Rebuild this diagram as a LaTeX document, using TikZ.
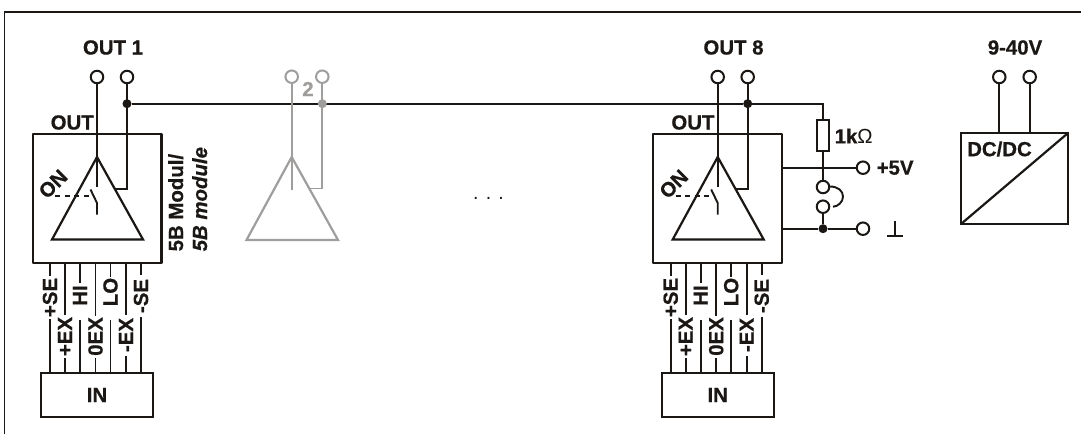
\documentclass[tikz,border=0pt]{standalone}
\usepackage{fontspec}
\setmainfont[BoldFeatures={FakeBold=0.6},BoldItalicFeatures={FakeBold=0.6}]{Liberation Sans}
\begin{document}
\begin{tikzpicture}[x=1pt,y=-1pt,
  wire/.style={line width=1.9pt,draw=ink},
  thin wire/.style={line width=1.7pt,draw=ink},
  box/.style={line width=2.2pt,draw=ink},
  term/.style={circle,draw=ink,line width=2pt,fill=white,minimum size=12.5pt,inner sep=0pt},
  gterm/.style={term,draw=ghost},
  jdot/.style={circle,fill=ink,minimum size=9pt,inner sep=0pt},
  gdot/.style={jdot,fill=ghost},
  lab/.style={font=\fontsize{20.4}{20.4}\selectfont\bfseries,text=ink,inner sep=0pt},
  sig/.style={lab,rotate=90},
  ghostwire/.style={line width=1.9pt,draw=ghost}]
\definecolor{ink}{HTML}{1A1714}
\definecolor{ghost}{HTML}{A09E9C}
\useasboundingbox (0,0) rectangle (1081,434);
\fill[white] (0,0) rectangle (1081,434);
\draw[line width=1.4pt,draw=ink] (4.5,434) -- (4.5,12) -- (1081,12);

% --- bus
\coordinate (busR) at (823,103.7);
\node[jdot] (d1) at (127,103.7) {};
\node[jdot] (d8) at (747.7,103.7) {};

% --- OUT 1 module
\node[term] (a1) at (97,77) {};
\node[term] (b1) at (127,77) {};
\node[lab] (o1) at (113,47.5) {OUT 1};
\node[lab,anchor=base west] (oi1) at (50.5,129.5) {OUT};
\coordinate (apex1) at (97,157);
\coordinate (bl1) at (52,239.5);
\coordinate (br1) at (143,239.5);
\coordinate (sw1) at (97,187);
\coordinate (kn1) at (127,189);
\coordinate (tr1) at (115,189);
\draw[box,line join=round] (33,134) rectangle (161.5,263);
\draw[box,line join=miter] (apex1) -- (bl1) -- (br1) -- cycle;
\draw[wire] (a1) -- (sw1);
\draw[wire] (b1) -- (kn1) -- (tr1);
\draw[wire] (d1) -- (d8);
\draw[wire] (90.5,189.5) -- (97,203) -- (97,214.5);
\draw[wire,dash pattern=on 5pt off 4.5pt] (55,196) -- (92,196);
\node[lab,rotate=45] (on1) at (53,184) {ON};
\node[lab,rotate=90,anchor=base west] (m1a) at (183,251.5) {5B Modul/};
\node[lab,rotate=90,anchor=base west,font=\fontsize{20.4}{20.4}\selectfont\bfseries\itshape] (m1b) at (207,251.5) {5B module};

% --- signals 1
\foreach \xx/\ya/\yb/\yc/\txt/\ym in {
  50/276/319/373/+SE/297.5,
  65/315/358/373/+EX/336.5,
  80/283/320/373/HI/295.5,
  95.5/316/358/373/0EX/336.5,
  110.5/277/320/373/LO/292,
  126/315/356/373/-EX/335,
  141/275/317/373/-SE/296}{
  \draw[thin wire] (\xx,263) -- (\xx,\ya) (\xx,\yb) -- (\xx,\yc);
  \node[sig] at (\xx,\ym) {\txt};
}
\draw[box] (41,373) rectangle (153,416.7);
\node[lab] (in1) at (97,395) {IN};

% --- ghost channel 2
\node[gterm] (a2) at (291.7,76.7) {};
\node[gterm] (b2) at (322.3,76.7) {};
\node[gdot] (d2) at (322.3,103.7) {};
\node[lab,text=ghost] (two) at (308,89) {2};
\coordinate (apex2) at (291.7,157);
\draw[ghostwire,line width=2.2pt] (apex2) -- (246.5,240) -- (338,240) -- cycle;
\draw[ghostwire] (a2) -- (291.7,189.5);
\draw[ghostwire] (b2) -- (322.3,188.5) -- (310,188.5);

\node[font=\fontsize{19.5}{19.5}\selectfont,text=ink,inner sep=0pt,anchor=base] (dots) at (488.5,199) {. . .};

% --- OUT 8 module
\node[term] (a8) at (717.7,77) {};
\node[term] (b8) at (747.7,77) {};
\node[lab] (o8) at (733.5,47.5) {OUT 8};
\node[lab,anchor=base west] (oi8) at (671.2,129.5) {OUT};
\coordinate (apex8) at (717.7,157);
\draw[box,line join=round] (653,134) rectangle (782,263);
\draw[box] (apex8) -- (672.7,239.5) -- (763.7,239.5) -- cycle;
\draw[wire] (a8) -- (717.7,187);
\draw[wire] (b8) -- (747.7,189) -- (735.7,189);
\draw[wire] (711.2,189.5) -- (717.7,203) -- (717.7,214.5);
\draw[wire,dash pattern=on 5pt off 4.5pt] (675.7,196) -- (712.7,196);
\node[lab,rotate=45] (on8) at (673.7,184) {ON};
\foreach \xx/\ya/\yb/\yc/\txt/\ym in {
  670.7/276/319/373/+SE/297.5,
  685.7/315/358/373/+EX/336.5,
  700.7/283/320/373/HI/295.5,
  716.2/316/358/373/0EX/336.5,
  731.2/277/320/373/LO/292,
  746.7/315/356/373/-EX/335,
  761.7/275/317/373/-SE/296}{
  \draw[thin wire] (\xx,263) -- (\xx,\ya) (\xx,\yb) -- (\xx,\yc);
  \node[sig] at (\xx,\ym) {\txt};
}
\draw[box] (661.7,373) rectangle (773.7,416.7);
\node[lab] (in8) at (717.7,395) {IN};

% --- pull-up and jumper
\node[draw=ink,line width=1.9pt,minimum width=12pt,minimum height=31pt,inner sep=0pt] (r) at (823,135.3) {};
\node[lab,anchor=west] (rl) at (834.5,136) {1k{\mdseries Ω}};
\node[term] (j1) at (823,187) {};
\node[term] (j2) at (823,206.7) {};
\node[jdot] (dg) at (823,228.7) {};
\node[term] (p5) at (863,167.7) {};
\node[term] (gnd) at (863,228.7) {};
\node[lab,anchor=west] (p5l) at (876.5,167.7) {+5V};
\draw[wire] (d8) -- (busR) -- (r.north);
\draw[wire] (r.south) -- (j1);
\draw[wire] (j2) -- (dg);
\draw[wire] (782,167.7) -- (p5);
\draw[wire] (782,228.7) -- (dg) -- (gnd);
\draw[wire] (830,186.5) .. controls (838,186.5) and (843,191) .. (843,196.5) .. controls (843,202) and (838,206.5) .. (833,206.7);
\coordinate (gt) at (895,221);
\coordinate (gb) at (895,236);
\draw[line width=1.4pt,draw=ink] (gt) -- (gb);
\draw[box] (887,236) -- (903,236);

% --- DC/DC
\node[term] (c1) at (999.3,77) {};
\node[term] (c2) at (1029.7,77) {};
\node[lab] (v) at (1015,47.5) {9-40V};
\draw[wire] (c1) -- (999.3,133.3);
\draw[wire] (c2) -- (1029.7,133.3);
\draw[box] (961,133.3) rectangle (1067.7,224);
\draw[box] (961,224) -- (1067.7,133.3);
\node[lab,anchor=west] (dc) at (967,149) {DC/DC};
\end{tikzpicture}
\end{document}
